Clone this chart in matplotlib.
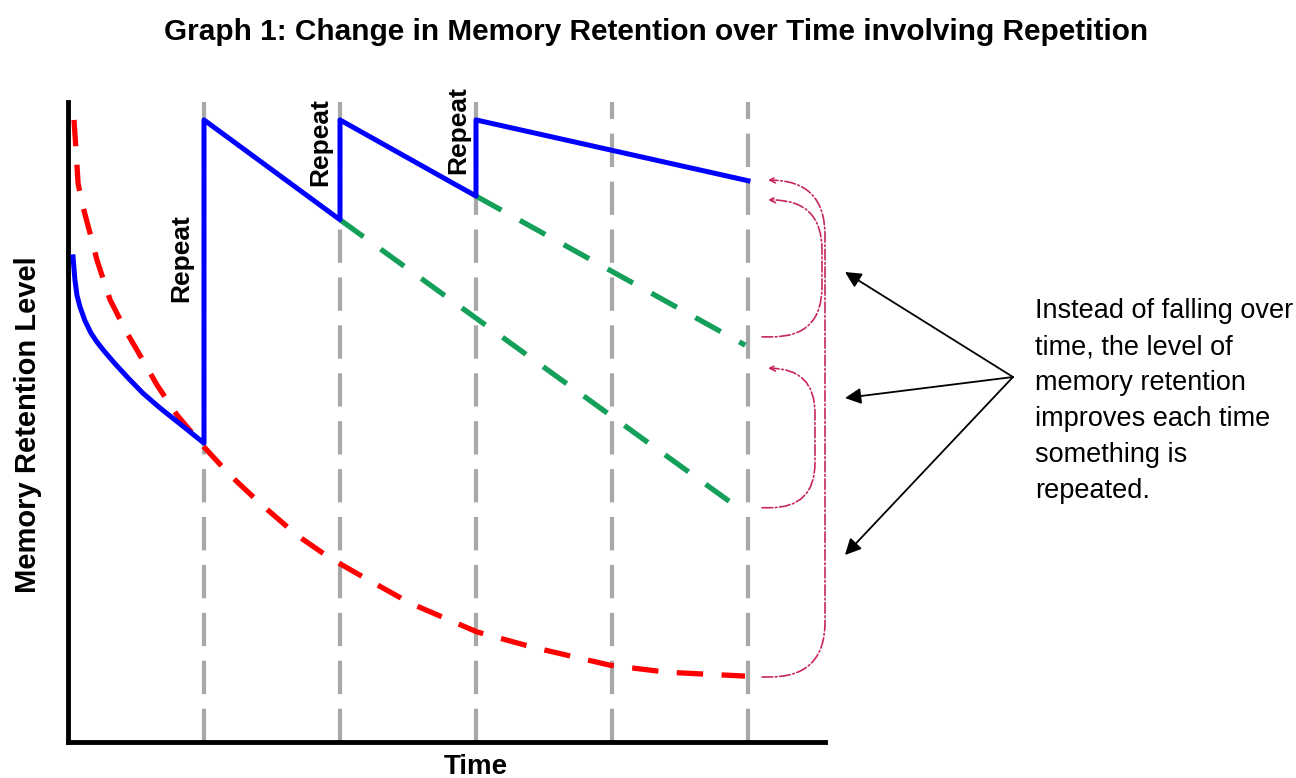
import numpy as np
import matplotlib
matplotlib.use("Agg")
from matplotlib import pyplot as plt

plt.rcParams['font.family'] = ['Liberation Sans', 'DejaVu Sans']

# repetition times (vertical guide lines)
repeat_times = [1, 2, 3, 4, 5]

# blue: retention with repetition
t_blue = [0.037, 0.051, 0.066, 0.088, 0.125, 0.169, 0.213, 0.265, 0.346, 0.441,
          0.551, 0.676, 0.824, 1.0, 1.0, 2.0, 2.0, 3.0, 3.0, 5.0]
r_blue = [75.8, 72.2, 69.8, 68.0, 65.8, 63.9, 62.5, 61.1, 59.1, 56.9,
          54.5, 52.2, 49.7, 46.7, 97.2, 81.6, 97.2, 85.3, 97.2, 87.7]

# red: forgetting curve without repetition
t_red = [0.044, 0.059, 0.074, 0.103, 0.140, 0.176, 0.213, 0.309, 0.434, 0.507,
         0.654, 0.801, 1.0, 1.191, 1.412, 1.684, 1.926, 2.169, 2.515, 3.007,
         3.419, 3.985, 4.404, 4.978]
r_red = [97.2, 92.5, 87.3, 84.2, 81.25, 78.4, 75.3, 69.1, 63.9, 61.25,
         55.8, 51.1, 46.1, 41.7, 37.3, 32.3, 28.75, 25.8, 21.7, 17.2,
         14.8, 12.0, 10.9, 10.3]

# green: decay if no further repetition
t_green1 = [2.0, 4.98]
r_green1 = [81.6, 35.8]
t_green2 = [3.0, 4.98]
r_green2 = [85.3, 62.0]

repeat_labels = [(0.83, 75.6), (1.853, 93.8), (2.868, 95.6)]

note = ("Instead of falling over\ntime, the level of\nmemory retention\n"
        "improves each time\nsomething is\nrepeated.")

fig = plt.figure(figsize=(12.96, 7.78), dpi=100)
ax = fig.add_axes([68/1296, 36/778, 757/1296, 640/778])
ax.set_xlim(0, 757/136)
ax.set_ylim(0, 100)

for t in repeat_times:
    ax.axvline(t, color='#a8a8a8', lw=3, dashes=(8, 3.5), zorder=1)

ax.plot(t_red, r_red, color='#ff0000', lw=3.8, dashes=(5, 3.5), zorder=2)
ax.plot(t_green1, r_green1, color='#14a05a', lw=3.8, dashes=(5.5, 4), zorder=2)
ax.plot(t_green2, r_green2, color='#14a05a', lw=3.8, dashes=(5.5, 4), zorder=2)
ax.plot(t_blue, r_blue, color='#0000ff', lw=3.6, zorder=3)

for x, y in repeat_labels:
    ax.text(x, y, "Repeat", rotation=90, ha='center', va='center',
            fontsize=19, fontweight='bold')

for s in ['top', 'right']:
    ax.spines[s].set_visible(False)
for s in ['left', 'bottom']:
    ax.spines[s].set_linewidth(3.5)
ax.set_xticks([])
ax.set_yticks([])

# curved dash-dot arrows from the ends of the lines (arm/rad in pixels)
curve_col = '#c8285a'
arcs = [((5.103, 10.16), (5.147, 87.8), 63, 57, 55),
        ((5.103, 63.3), (5.147, 84.7), 60, 54, 50),
        ((5.103, 36.6), (5.147, 58.4), 53, 47, 45)]
for a, b, armA, armB, rad in arcs:
    ax.annotate('', xy=b, xytext=a, annotation_clip=False,
                arrowprops=dict(arrowstyle='->', color=curve_col, lw=1.2, ls='-.',
                                shrinkA=0, shrinkB=0,
                                connectionstyle='arc,angleA=0,angleB=0,armA=%d,armB=%d,rad=%d'
                                % (armA, armB, rad)))

# black pointer arrows
src = (1013/1296, 1 - 377/778)
for tip in [(845, 272), (845, 398), (845, 555)]:
    fig.add_artist(matplotlib.patches.FancyArrowPatch(
        src, (tip[0]/1296, 1 - tip[1]/778), transform=fig.transFigure,
        arrowstyle='-|>', mutation_scale=24, color='black', lw=1.3,
        shrinkA=0, shrinkB=0))

fig.text(1035/1296, 1 - 401/778, note, ha='left', va='center', fontsize=19.5,
         linespacing=1.5)

fig.text(656/1296, 1 - 32/778, "Graph 1: Change in Memory Retention over Time involving Repetition",
         ha='center', va='center', fontsize=21.4, fontweight='bold')
fig.text(28/1296, 1 - 425/778, "Memory Retention Level", rotation=90, ha='center',
         va='center', fontsize=21, fontweight='bold')
fig.text(476/1296, 1 - 767/778, "Time", ha='center', va='center', fontsize=20,
         fontweight='bold')

fig.savefig('out.png', dpi=100, facecolor='white')
